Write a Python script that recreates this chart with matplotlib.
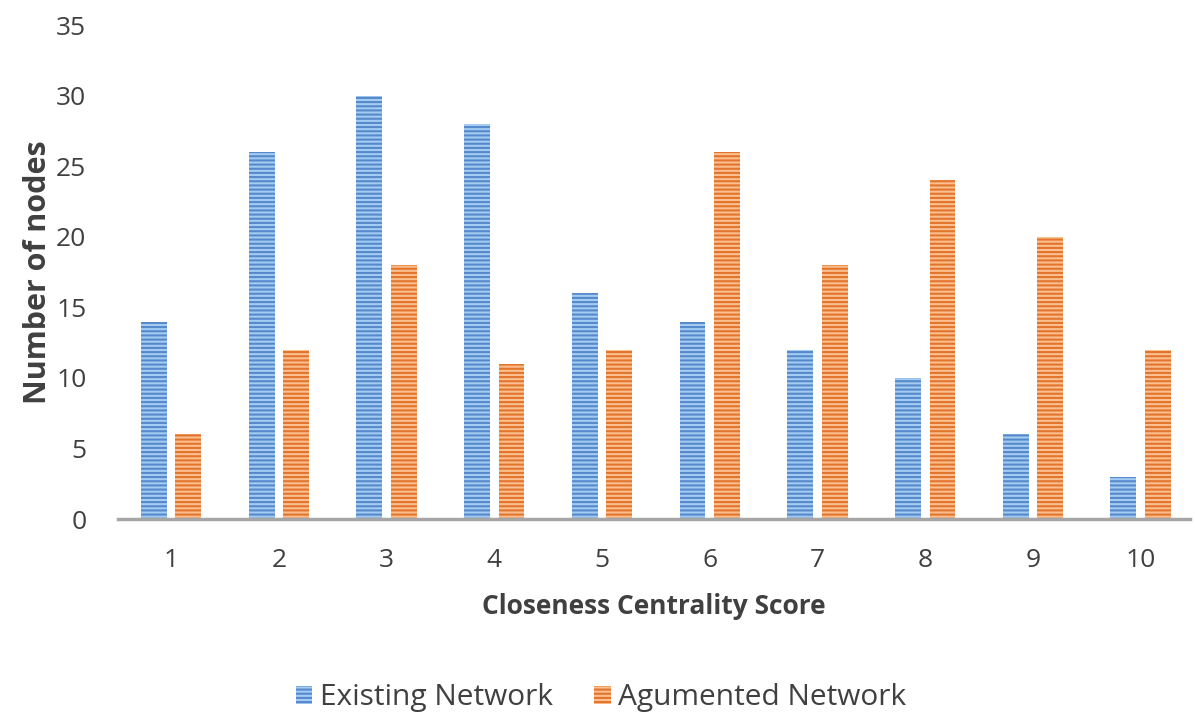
import matplotlib
matplotlib.use("Agg")
import matplotlib.pyplot as plt
import numpy as np

categories = ["1", "2", "3", "4", "5", "6", "7", "8", "9", "10"]
existing = [14, 26, 30, 28, 16, 14, 12, 10, 6, 3]
augmented = [6, 12, 18, 11, 12, 26, 18, 24, 20, 12]
series_names = ["Existing Network", "Agumented Network"]

plt.rcParams["font.family"] = ["Open Sans", "DejaVu Sans"]
plt.rcParams["hatch.linewidth"] = 1.5

fig = plt.figure(figsize=(11.95, 7.17), dpi=100)
ax = fig.add_axes([0.099, 0.276, 0.897, 0.689])

x = np.arange(1, len(categories) + 1)
w = 0.24
off = 0.16
ax.bar(x - off, existing, width=w, color="#a4ccf2", edgecolor="#5689cc",
       linewidth=0, hatch="----", label=series_names[0])
ax.bar(x + off, augmented, width=w, color="#fcc090", edgecolor="#e2742c",
       linewidth=0, hatch="----", label=series_names[1])

ax.set_ylim(0, 35)
ax.set_xlim(0.51, 10.46)
ax.set_yticks(np.arange(0, 36, 5))
ax.set_xticks(x)
ax.set_xticklabels(categories)
ax.tick_params(axis="both", length=0, labelsize=19, colors="#404040")
ax.tick_params(axis="y", pad=23)
ax.tick_params(axis="x", pad=21)
for s in ["top", "right", "left"]:
    ax.spines[s].set_visible(False)
ax.spines["bottom"].set_color("#a6a6a6")
ax.spines["bottom"].set_linewidth(2.5)

ax.set_xlabel("Closeness Centrality Score", fontsize=19, fontweight="bold",
              color="#404040", labelpad=14)
ax.set_ylabel("Number of nodes", fontsize=22, fontweight="bold",
              color="#404040", labelpad=2)

fig.legend(loc="center", bbox_to_anchor=(0.503, 0.027), ncol=2, frameon=False,
           fontsize=21.5, handlelength=0.55, handleheight=0.55, handletextpad=0.25,
           columnspacing=1.4, labelcolor="#404040")

fig.savefig("out.png", dpi=100)
